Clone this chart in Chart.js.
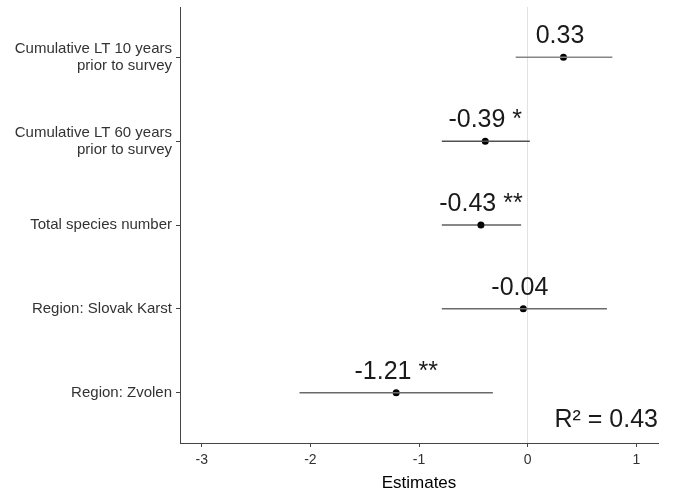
<!DOCTYPE html>
<html lang="en">
<head>
    <meta charset="UTF-8">
    <script src="https://cdn.jsdelivr.net/npm/chart.js"></script>
    <title>Estimates</title>
    <style>
        html, body { margin: 0; padding: 0; background: #fff; }
        #wrap { width: 674px; height: 494px; }
    </style>
</head>
<body>
<div id="wrap"><canvas id="estChart"></canvas></div>
<script>
    // model terms, top to bottom
    const terms = [
        ['Cumulative LT 10 years', 'prior to survey'],
        ['Cumulative LT 60 years', 'prior to survey'],
        'Total species number',
        'Region: Slovak Karst',
        'Region: Zvolen'
    ];
    const estimates = [0.33, -0.39, -0.43, -0.04, -1.21];
    const ciLow = [-0.11, -0.79, -0.79, -0.79, -2.10];
    const ciHigh = [0.78, 0.02, -0.06, 0.73, -0.32];
    const valueLabels = ['0.33 ', '-0.39 *', '-0.43 **', '-0.04 ', '-1.21 **'];
    const xTicks = [-3, -2, -1, 0, 1];
    const rSquared = 'R\u00B2 = 0.43';

    const ciColors = ['#858585', '#505050', '#111111', '#6a6a6a', '#6a6a6a'];
    const ciWidths = [1.5, 1.5, 1.1, 1.5, 1.5];

    Chart.defaults.font.family = '"Liberation Sans", Arial, sans-serif';

    const datasets = terms.map((t, i) => ({
        type: 'line',
        data: [{ x: ciLow[i], y: i + 1 }, { x: ciHigh[i], y: i + 1 }],
        borderColor: ciColors[i],
        borderWidth: ciWidths[i],
        pointRadius: 0
    }));
    datasets.push({
        type: 'scatter',
        data: estimates.map((e, i) => ({ x: e, y: i + 1 })),
        pointRadius: 3.5,
        backgroundColor: '#000',
        borderWidth: 0
    });

    // value labels above points and the R² note
    const labelPlugin = {
        id: 'labels',
        afterDatasetsDraw(chart) {
            const { ctx, chartArea, scales: { x, y } } = chart;
            ctx.save();
            ctx.fillStyle = '#1a1a1a';
            ctx.font = '25px "Liberation Sans", Arial, sans-serif';
            ctx.textBaseline = 'alphabetic';
            ctx.textAlign = 'center';
            estimates.forEach((e, i) => {
                ctx.fillText(valueLabels[i], x.getPixelForValue(e), y.getPixelForValue(i + 1) - 14);
            });
            ctx.textAlign = 'right';
            ctx.fillText(rSquared, chartArea.right, chartArea.bottom - 16);
            ctx.restore();
        }
    };

    new Chart(document.getElementById('estChart'), {
        type: 'line',
        data: { datasets: datasets },
        options: {
            responsive: true,
            maintainAspectRatio: false,
            animation: false,
            layout: { padding: { top: 7, right: 16, left: 0, bottom: 0 } },
            plugins: {
                legend: { display: false },
                tooltip: { enabled: false }
            },
            scales: {
                x: {
                    type: 'linear',
                    min: -3.2,
                    max: 1.2,
                    afterBuildTicks: (scale) => { scale.ticks = xTicks.map(v => ({ value: v })); },
                    afterFit: (scale) => {
                        scale.height = 51;
                        scale.paddingLeft = 0;
                        scale.paddingRight = 0;
                    },
                    grid: {
                        color: (c) => c.tick && c.tick.value === 0 ? '#e2e2e2' : 'rgba(0,0,0,0)',
                        tickColor: '#444',
                        tickLength: 4
                    },
                    border: { color: '#444', width: 1 },
                    ticks: {
                        color: '#333',
                        font: { size: 14 },
                        padding: 5
                    },
                    title: {
                        display: true,
                        text: 'Estimates',
                        color: '#000',
                        font: { size: 17 },
                        padding: { top: 0, bottom: 0 }
                    }
                },
                y: {
                    type: 'linear',
                    reverse: true,
                    min: 0.4,
                    max: 5.6,
                    afterBuildTicks: (scale) => { scale.ticks = terms.map((t, i) => ({ value: i + 1 })); },
                    afterFit: (scale) => {
                        scale.width = 180;
                        scale.paddingTop = 0;
                        scale.paddingBottom = 0;
                    },
                    grid: {
                        color: 'rgba(0,0,0,0)',
                        tickColor: '#444',
                        tickLength: 4
                    },
                    border: { color: '#444', width: 1 },
                    ticks: {
                        color: '#333',
                        font: { size: 15, lineHeight: 1.1 },
                        padding: 4,
                        callback: (v) => terms[v - 1]
                    }
                }
            }
        },
        plugins: [labelPlugin]
    });
</script>
</body>
</html>
